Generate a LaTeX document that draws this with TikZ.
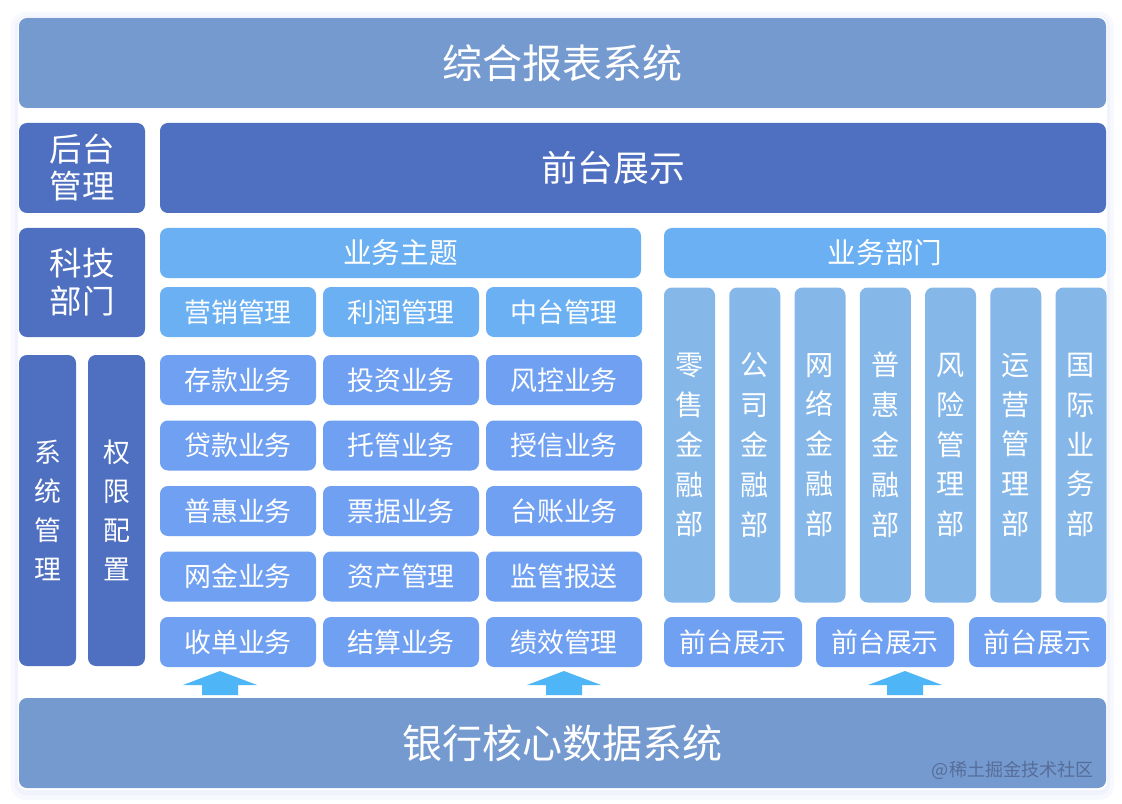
\documentclass[tikz,border=0pt]{standalone}
\usepackage{fontspec}
\setmainfont{Noto Sans CJK SC}
\usepackage{xcolor}

\definecolor{barblue}{RGB}{117,154,207}
\definecolor{darkblue}{RGB}{79,111,192}
\definecolor{headblue}{RGB}{106,176,242}
\definecolor{itemblue}{RGB}{112,160,242}
\definecolor{deptblue}{RGB}{133,183,233}
\definecolor{arrowblue}{RGB}{78,182,246}
\definecolor{markgray}{RGB}{80,98,140}

\tikzset{
  blk/.style={rounded corners=4.5pt, inner sep=0pt, text=white, align=center},
  sz/.style 2 args={minimum width=#1*0.02cm, minimum height=#2*0.02cm},
  bar/.style={blk, fill=barblue, font=\fontsize{22.8}{27}\selectfont},
  darkbox/.style={blk, fill=darkblue},
  headbox/.style={blk, fill=headblue, font=\fontsize{16.3}{20}\selectfont},
  itembox/.style={blk, fill=itemblue, sz={156}{50}, font=\fontsize{15.3}{18}\selectfont},
  deptbox/.style={blk, fill=deptblue, sz={51}{315}, font=\fontsize{16}{22.7}\selectfont},
  uparrow/.style={fill=arrowblue}
}

\begin{document}
\begin{tikzpicture}[x=0.02cm, y=-0.02cm]
    \useasboundingbox (0,0) rectangle (1122,804);

    % Card and its shadow
    \fill[rounded corners=8pt, fill={rgb,255:red,248;green,249;blue,254}] (11,12) rectangle (1114,800);
    \fill[rounded corners=6pt, fill={rgb,255:red,240;green,243;blue,252}] (15,16) rectangle (1110,795);
    \fill[white, rounded corners=4.5pt] (18,17) rectangle (1107,790);

    % Top and bottom systems
    \node[bar, sz={1087}{90}] (report) at (562.5,63) {综合报表系统};
    \node[bar, sz={1087}{90}] (core) at (562.5,743) {银行核心数据系统};

    % Left column
    \node[darkbox, sz={126}{90}, font=\fontsize{18.5}{21}\selectfont] (houtai) at (82,168) {后台\\管理};
    \node[darkbox, sz={126}{109}, font=\fontsize{18.5}{21.5}\selectfont] (keji) at (82,282.5) {科技\\部门};
    \node[darkbox, sz={57}{311}, font=\fontsize{15.3}{22.2}\selectfont] (xitong) at (47.5,510.5) {系\\统\\管\\理};
    \node[darkbox, sz={57}{311}, font=\fontsize{15.3}{22.2}\selectfont] (quanxian) at (116.5,510.5) {权\\限\\配\\置};

    % Front display
    \node[darkbox, sz={946}{90}] (qiantai) at (633,168) {};
    \node[text=white, font=\fontsize{20.4}{24}\selectfont] (qiantaitxt) at (613.5,168) {前台展示};

    % Business topics
    \node[headbox, sz={481}{50}] (zhuti) at (400.5,253) {业务主题};
    \node[itembox, fill=headblue] (yingxiao) at (238,312) {营销管理};
    \node[itembox, fill=headblue] (lirun) at (401,312) {利润管理};
    \node[itembox, fill=headblue] (zhongtai) at (564,312) {中台管理};

    \node[itembox] (cunkuan) at (238,380) {存款业务};
    \node[itembox] (daikuan) at (238,445.5) {贷款业务};
    \node[itembox] (puhui) at (238,511) {普惠业务};
    \node[itembox] (wangjin) at (238,576.5) {网金业务};
    \node[itembox] (shoudan) at (238,642) {收单业务};

    \node[itembox] (touzi) at (401,380) {投资业务};
    \node[itembox] (tuoguan) at (401,445.5) {托管业务};
    \node[itembox] (piaoju) at (401,511) {票据业务};
    \node[itembox] (zichan) at (401,576.5) {资产管理};
    \node[itembox] (jiesuan) at (401,642) {结算业务};

    \node[itembox] (fengkong) at (564,380) {风控业务};
    \node[itembox] (shouxin) at (564,445.5) {授信业务};
    \node[itembox] (taizhang) at (564,511) {台账业务};
    \node[itembox] (jianguan) at (564,576.5) {监管报送};
    \node[itembox] (jixiao) at (564,642) {绩效管理};

    % Business departments
    \node[headbox, sz={442}{50}] (bumen) at (885,253) {业务部门};
    \foreach \t [count=\i from 0] in {{零\\售\\金\\融\\部},{公\\司\\金\\融\\部},{网\\络\\金\\融\\部},
        {普\\惠\\金\\融\\部},{风\\险\\管\\理\\部},{运\\营\\管\\理\\部},{国\\际\\业\\务\\部}}
      \node[deptbox] (dept\i) at ({689.5+65.25*\i},445) {\t};

    \node[itembox, sz={138}{50}] (show1) at (733,642) {前台展示};
    \node[itembox, sz={138}{50}] (show2) at (885,642) {前台展示};
    \node[itembox, sz={137}{50}] (show3) at (1037.5,642) {前台展示};

    % Up arrows from the core system
    \foreach \cx in {220,564,905}
      \fill[uparrow] (\cx-18,695) -- (\cx-18,685) -- (\cx-37,685) -- (\cx,671)
        -- (\cx+37,685) -- (\cx+18,685) -- (\cx+18,695) -- cycle;

    % Watermark
    \node[text=markgray, opacity=0.8, font=\fontsize{10.3}{12}\selectfont, anchor=east] (mark) at (1100,770) {@稀土掘金技术社区};
\end{tikzpicture}
\end{document}
